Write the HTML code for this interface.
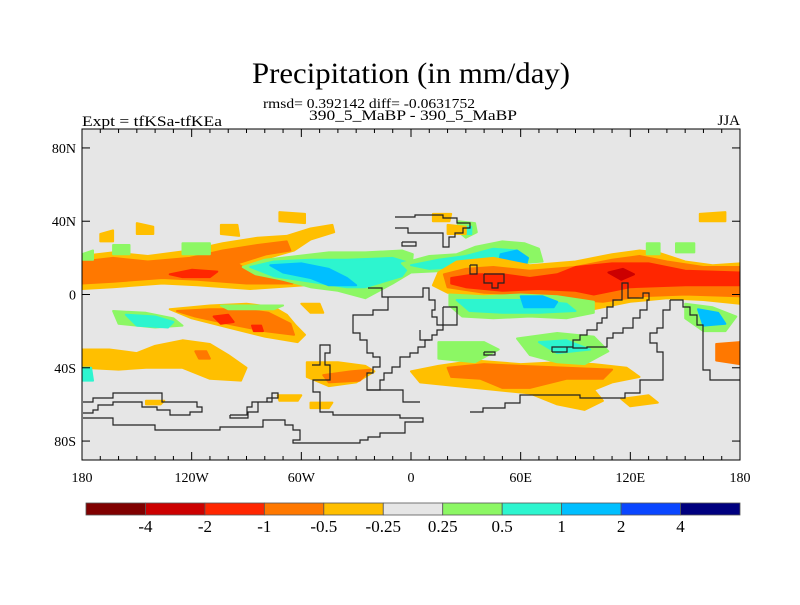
<!DOCTYPE html>
<html><head><meta charset="utf-8"><style>
body{margin:0;background:#fff;}
svg text{font-family:"Liberation Serif",serif;fill:#000;}
</style></head><body>
<svg id="chart" width="800" height="600" viewBox="0 0 800 600" xmlns="http://www.w3.org/2000/svg">
<text x="411" y="83" font-size="30" text-anchor="middle" textLength="318" lengthAdjust="spacingAndGlyphs">Precipitation (in mm/day)</text>
<text x="369" y="108" font-size="14" text-anchor="middle" textLength="212" lengthAdjust="spacingAndGlyphs">rmsd= 0.392142 diff= -0.0631752</text>
<text x="413" y="120" font-size="15" text-anchor="middle" textLength="208" lengthAdjust="spacingAndGlyphs">390_5_MaBP - 390_5_MaBP</text>
<text x="82" y="126" font-size="15" textLength="140" lengthAdjust="spacingAndGlyphs">Expt = tfKSa-tfKEa</text>
<text x="740" y="125" font-size="15" text-anchor="end">JJA</text>
<clipPath id="pc"><rect x="82" y="129" width="658" height="331"/></clipPath>
<rect x="82" y="129" width="658" height="331" fill="#e6e6e6"/>
<g id="fills" clip-path="url(#pc)"></g>
<g id="coast" clip-path="url(#pc)" fill="none" stroke="#222" stroke-width="1.2"></g>
<rect x="82" y="129" width="658" height="331" fill="none" stroke="#000" stroke-width="1"/>
<g id="axes"></g>
<g id="cbar"></g>
</svg>
<script>
const levelLabels=["-4","-2","-1","-0.5","-0.25","0.25","0.5","1","2","4"];
const levelColors=["#800000","#cc0000","#ff2600","#ff7800","#ffbf00","#e6e6e6","#8cf764","#2df5cf","#00bfff","#0a46ff","#00007f"];
const lonTicks=[-180,-120,-60,0,60,120,180];
const lonLabels=["180","120W","60W","0","60E","120E","180"];
const latTicks=[80,40,0,-40,-80];
const latLabels=["80N","40N","0","40S","80S"];
// anomaly regions: [colorIndex, polygon of [lon,lat]]
const blobs=[
 // west Pacific / Atlantic northern band
 [4,[[-180,21],[-163,23],[-144,21],[-121,24],[-103,28],[-84,31],[-68,32],[-55,36],[-43,38],[-42,34],[-55,30],[-64,24],[-78,20],[-92,16],[-82,12],[-60,8],[-58,5],[-88,3],[-117,5],[-136,6],[-163,4],[-180,3]]],
 [3,[[-180,18],[-163,20],[-144,18],[-121,20],[-103,24],[-84,27],[-68,29],[-66,24],[-79,22],[-95,17],[-88,12],[-62,8],[-65,6],[-90,6],[-117,8],[-136,9],[-163,7],[-180,6]]],
 [2,[[-132,11],[-120,13.5],[-106,12.5],[-110,9.5],[-125,9.5]]],
 [6,[[-92,15],[-80,19],[-62,21],[-45,23],[-25,23],[-5,24],[1,22],[0,12],[-10,6],[-25,-2],[-40,2],[-55,4],[-70,8],[-85,11]]],
 [7,[[-88,15],[-75,18],[-55,19],[-35,19],[-10,20],[0,17],[-5,10],[-25,4],[-35,4],[-55,7],[-75,10]]],
 [8,[[-77,16],[-60,17],[-45,14],[-35,9],[-30,5],[-45,5],[-55,9],[-70,12]]],
 // east hemisphere northern green/cyan
 [6,[[-5,17],[10,21],[25,22],[35,26],[50,29],[62,28],[70,25],[72,18],[60,17],[40,15],[20,13],[0,12]]],
 [7,[[0,16],[15,19],[30,21],[45,25],[58,24],[62,18],[45,15],[25,15],[10,14]]],
 [8,[[49,22],[58,24],[64,20],[62,12],[53,11],[48,16]]],
 [9,[[55,14],[57,15],[58,13]]],
 [6,[[26,40],[35,39],[36,34],[30,31],[25,35]]],
 [7,[[29,37],[33,37],[33,33],[29,33]]],
 // red band east
 [4,[[15,12],[25,18],[45,20],[65,16],[90,18],[110,22],[125,24],[135,23],[150,18],[165,16],[180,17],[180,-5],[160,-3],[140,-2],[120,-4],[100,-8],[85,-5],[65,-2],[40,-1],[20,1],[12,5]]],
 [3,[[18,11],[30,14],[45,15],[65,13],[90,15],[110,19],[125,21],[140,18],[160,15],[180,15],[180,-1],[150,0],[125,-1],[105,-4],[90,-3],[65,0],[40,1],[20,4]]],
 [2,[[22,9],[35,11],[50,11],[65,9],[80,11],[90,15],[110,17],[130,17],[150,13],[180,12],[180,5],[150,5],[120,4],[100,0],[90,2],[70,3],[50,2],[30,4],[22,6]]],
 [1,[[108,12],[116,14],[122,11],[115,8]]],
 // south of equator green/cyan east
 [6,[[21,0],[40,-1],[60,0],[80,-1],[100,-4],[100,-10],[85,-13],[65,-12],[45,-13],[28,-12],[21,-6]]],
 [7,[[25,-3],[45,-3],[65,-3],[85,-5],[90,-9],[70,-10],[50,-10],[32,-9]]],
 [8,[[60,-1],[72,-1],[80,-4],[78,-7],[62,-7]]],
 // southern-hemisphere west
 [4,[[-132,-8],[-110,-6],[-90,-5],[-75,-7],[-68,-11],[-63,-17],[-58,-22],[-62,-26],[-80,-23],[-100,-18],[-120,-13]]],
 [3,[[-128,-9],[-110,-8],[-92,-8],[-78,-10],[-66,-16],[-64,-22],[-80,-20],[-100,-16],[-118,-12]]],
 [2,[[-108,-12],[-100,-11],[-97,-15],[-104,-16]]],
 [2,[[-87,-17],[-82,-17],[-81,-20],[-86,-20]]],
 [6,[[-163,-9],[-145,-10],[-130,-13],[-125,-17],[-140,-18],[-160,-16]]],
 [7,[[-156,-11],[-140,-12],[-130,-15],[-133,-18],[-150,-17]]],
 [6,[[-104,-6],[-90,-6],[-70,-6],[-75,-8],[-100,-8]]],
 [4,[[-180,-30],[-165,-30],[-150,-32],[-140,-28],[-125,-25],[-110,-27],[-100,-33],[-90,-40],[-93,-47],[-110,-46],[-125,-40],[-145,-40],[-160,-41],[-180,-40]]],
 [3,[[-118,-31],[-112,-31],[-110,-35],[-116,-35]]],
 [7,[[-180,-40],[-175,-40],[-174,-47],[-180,-47]]],
 [4,[[-57,-37],[-40,-37],[-25,-39],[-20,-42],[-30,-48],[-45,-50],[-57,-45]]],
 [3,[[-48,-44],[-33,-42],[-22,-41],[-28,-47],[-45,-48]]],
 [4,[[-60,-5],[-50,-5],[-48,-10],[-55,-10]]],
 [4,[[-73,-55],[-60,-55],[-62,-58],[-72,-58]]],
 [4,[[-55,-59],[-43,-59],[-45,-62],[-55,-62]]],
 [4,[[-145,-58],[-135,-58],[-137,-60],[-145,-60]]],
 // southern-hemisphere east
 [4,[[0,-42],[15,-39],[35,-36],[60,-38],[80,-37],[100,-38],[118,-40],[125,-45],[110,-48],[100,-52],[105,-58],[95,-63],[80,-60],[65,-54],[45,-52],[25,-50],[5,-48]]],
 [3,[[20,-40],[40,-38],[60,-39],[85,-40],[110,-41],[105,-46],[85,-46],[65,-51],[50,-51],[38,-46],[22,-45]]],
 [6,[[15,-26],[40,-26],[48,-30],[35,-37],[15,-35]]],
 [6,[[58,-24],[80,-21],[100,-23],[108,-31],[95,-38],[80,-37],[65,-33]]],
 [7,[[70,-26],[85,-25],[98,-30],[80,-32]]],
 [6,[[150,-5],[165,-7],[178,-12],[172,-20],[160,-20],[150,-13]]],
 [8,[[157,-8],[168,-10],[172,-16],[160,-17]]],
 [3,[[167,-27],[180,-26],[180,-38],[167,-36]]],
 [4,[[115,-57],[130,-55],[135,-59],[120,-61]]],
 // small northern patches
 [4,[[-104,38],[-95,38],[-94,32],[-104,33]]],
 [4,[[-72,45],[-58,44],[-58,39],[-72,40]]],
 [4,[[-150,39],[-141,37],[-141,33],[-150,33]]],
 [4,[[-170,33],[-163,35],[-163,29],[-170,29]]],
 [4,[[12,44],[22,44],[21,40],[12,40]]],
 [4,[[20,38],[30,37],[30,33],[20,33]]],
 [4,[[158,44],[172,45],[172,40],[158,40]]],
 [6,[[-163,27],[-154,27],[-154,22],[-163,22]]],
 [6,[[-125,28],[-110,28],[-110,22],[-125,22]]],
 [6,[[-180,22],[-174,24],[-174,19],[-180,19]]],
 [6,[[129,28],[136,28],[136,22],[129,22]]],
 [6,[[145,28],[155,28],[155,23],[145,23]]]
];
// coastlines (pixel polylines)
const coasts=[
 [[368,288],[382,288],[382,297],[400,297],[423,297],[423,288],[429,288],[429,300],[435,300],[435,310],[432,310],[432,317],[437,317],[437,325],[443,325],[443,330],[437,330],[437,335],[432,335],[432,340],[425,340],[425,347],[418,347],[418,353],[410,353],[410,357],[400,357],[400,367],[392,367],[392,373],[384,373],[384,380],[380,380],[380,390],[367,390]],
 [[388,297],[388,310],[373,310],[373,315],[353,315],[353,333],[360,333],[360,340],[367,340],[367,353],[373,353],[373,357],[380,357],[380,367],[373,367],[373,373],[367,373],[367,390],[403,390],[403,402],[420,402]],
 [[443,307],[457,307],[457,325],[443,325],[443,307]],
 [[395,228],[408,228],[408,233],[443,233],[443,247],[449,247],[449,237],[455,237],[455,233],[463,233],[463,228],[470,228],[470,223],[457,223],[457,218],[443,218],[443,215],[415,215],[415,217],[395,217]],
 [[402,242],[416,242],[416,246],[402,246],[402,242]],
 [[470,265],[477,265],[477,274],[470,274],[470,265]],
 [[484,274],[504,274],[504,283],[498,283],[498,288],[492,288],[492,283],[484,283],[484,274]],
 [[552,352],[567,352],[567,347],[573,347],[573,340],[580,340],[580,335],[587,335],[587,330],[597,330],[597,323],[602,323],[602,318],[607,318],[607,307],[613,307],[613,300],[622,300],[622,283],[628,283],[628,298],[643,298],[643,293],[649,293],[649,300],[647,300],[647,310],[640,310],[640,318],[633,318],[633,328],[623,328],[623,333],[613,333],[613,338],[607,338],[607,347],[587,347],[587,348],[573,348],[573,347],[552,347],[552,352]],
 [[670,300],[683,300],[683,307],[690,307],[690,315],[697,315],[697,325],[703,325],[703,370],[710,370],[710,380],[740,380]],
 [[670,300],[670,310],[663,310],[663,328],[657,328],[657,333],[650,333],[650,343],[657,343],[657,352],[663,352],[663,380],[640,380],[640,393],[625,393],[625,398],[580,398],[580,395],[520,395],[520,403],[505,403],[505,408],[483,408],[483,412],[470,412]],
 [[83,402],[93,402],[93,398],[113,398],[113,393],[162,393],[162,402],[197,402],[197,407],[202,407],[202,412],[190,412],[190,415],[170,415],[170,410],[157,410],[157,407],[142,407],[142,402],[113,402],[113,405],[98,405],[98,410],[93,410],[93,413],[83,413]],
 [[83,418],[113,418],[113,425],[155,425],[155,430],[220,430],[220,427],[263,427],[263,420],[285,420],[285,425],[293,425],[293,430],[300,430],[300,440],[293,440],[293,443],[360,443],[360,440],[368,440],[368,437],[380,437],[380,433],[405,433],[405,422],[423,422],[423,418],[400,418],[400,415],[333,415],[333,412],[320,412],[320,392],[313,392],[313,380],[320,380]],
 [[230,415],[247,415],[247,407],[252,407],[252,402],[267,402],[267,398],[272,398],[272,393],[278,393],[278,398],[272,398],[272,402],[258,402],[258,412],[248,412],[248,418],[230,418],[230,415]],
 [[320,380],[330,380],[330,365],[325,365],[325,353],[330,353],[330,345],[320,345],[320,365],[312,365]],
 [[484,352],[495,352],[495,355],[484,355],[484,352]],
 [[420,330],[420,340],[430,340]]
];
const X=lon=>82+(lon+180)*658/360;
const Y=lat=>294.5-lat*1.832;
const NS="http://www.w3.org/2000/svg";
const fills=document.getElementById('fills');
blobs.forEach(b=>{
 const p=document.createElementNS(NS,'polygon');
 p.setAttribute('points',b[1].map(q=>X(q[0]).toFixed(1)+','+Y(q[1]).toFixed(1)).join(' '));
 p.setAttribute('fill',levelColors[b[0]]);
 p.setAttribute('stroke',levelColors[b[0]]);
 p.setAttribute('stroke-width','2');
 p.setAttribute('stroke-linejoin','round');
 
 
 fills.appendChild(p);
});
const coast=document.getElementById('coast');
coasts.forEach(c=>{
 const p=document.createElementNS(NS,'polyline');
 p.setAttribute('points',c.map(q=>q[0]+','+q[1]).join(' '));
 
 
 coast.appendChild(p);
});
const ax=document.getElementById('axes');
function line(x1,y1,x2,y2,g){const l=document.createElementNS(NS,'line');l.setAttribute('x1',x1);l.setAttribute('y1',y1);l.setAttribute('x2',x2);l.setAttribute('y2',y2);l.setAttribute('stroke','#000');g.appendChild(l);return l;}
for(let lon=-180;lon<=180;lon+=10){const x=X(lon),maj=lon%60===0;const l1=line(x,129,x,129+(maj?8:4),ax);const l2=line(x,460,x,460-(maj?8:4),ax);}
for(let lat=-80;lat<=80;lat+=40){const y=Y(lat);const l1=line(82,y,90,y,ax);const l2=line(740,y,732,y,ax);}
lonTicks.forEach((lon,i)=>{const t=document.createElementNS(NS,'text');t.setAttribute('x',X(lon));t.setAttribute('y',482);t.setAttribute('font-size','14');t.setAttribute('text-anchor','middle');t.textContent=lonLabels[i];


ax.appendChild(t);});
latTicks.forEach((lat,i)=>{const t=document.createElementNS(NS,'text');t.setAttribute('x',76);t.setAttribute('y',Y(lat)+5);t.setAttribute('font-size','14');t.setAttribute('text-anchor','end');t.textContent=latLabels[i];


ax.appendChild(t);});
const cb=document.getElementById('cbar');
const bx0=86,bw=(740-86)/11;
levelColors.forEach((c,i)=>{const r=document.createElementNS(NS,'rect');r.setAttribute('x',bx0+i*bw);r.setAttribute('y',503);r.setAttribute('width',bw);r.setAttribute('height',12);r.setAttribute('fill',c);r.setAttribute('stroke','#555');r.setAttribute('stroke-width','0.8');


cb.appendChild(r);});
levelLabels.forEach((s,i)=>{const t=document.createElementNS(NS,'text');t.setAttribute('x',bx0+(i+1)*bw);t.setAttribute('y',532);t.setAttribute('font-size','17');t.setAttribute('text-anchor','middle');t.textContent=s;


cb.appendChild(t);});
</script>
</body></html>
